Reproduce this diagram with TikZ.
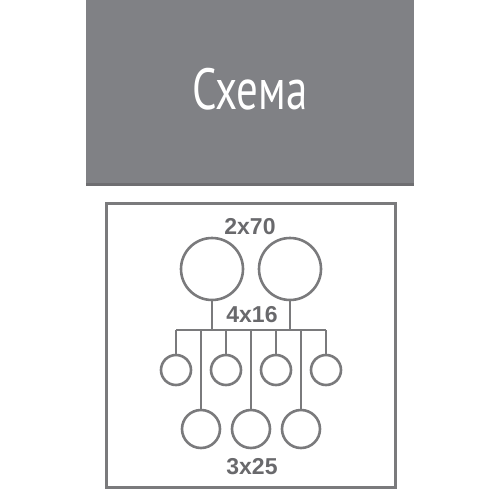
\documentclass[tikz,border=0pt]{standalone}
\usepackage{fontspec}
\newfontfamily\titlefont{PT Sans}
\newfontfamily\labelfont{Liberation Sans}
\definecolor{boxgray}{RGB}{128,129,133}
\definecolor{stripgray}{RGB}{110,110,113}
\definecolor{linegray}{RGB}{122,122,124}
\definecolor{textgray}{RGB}{105,105,108}
\tikzset{
  wire/.style={circle,draw=linegray,line width=2.6pt,inner sep=0pt},
  lbl/.style={text=textgray,font=\labelfont\bfseries\fontsize{23}{23}\selectfont},
}
\begin{document}
\begin{tikzpicture}[x=1pt,y=-1pt,line width=2.6pt]
\useasboundingbox (0,0) rectangle (500,500);
\fill[boxgray] (86,0) rectangle (414,183);
\fill[stripgray] (86,183) rectangle (414,186);
\node[text=white,font=\titlefont\fontsize{58}{58}\selectfont,xscale=0.74] (title) at (250,89) {Схема};
\draw[linegray,line width=3pt] (106,203) rectangle (395,487); % outer frame
\node[lbl] (top) at (250,227) {2x70};
\node[lbl] (mid) at (252,315) {4x16};
\node[lbl] (bot) at (252,467) {3x25};
\node[wire,minimum size=62pt] (big1) at (212,269) {};
\node[wire,minimum size=62pt] (big2) at (290,269) {};
\coordinate (barL) at (176,330);
\coordinate (barR) at (326,330);
\draw[linegray] (barL) -- (barR);
\draw[linegray] (big1.south) -- (big1.south |- barL);
\draw[linegray] (big2.south) -- (big2.south |- barL);
\foreach \i/\x in {1/176,2/226,3/276,4/326} % edit here for the 4x16 drops
{\node[wire,minimum size=30pt] (s\i) at (\x,370) {};
 \draw[linegray] (s\i.north) -- (s\i.north |- barL);}
\foreach \i/\x in {1/201,2/251,3/301} % edit here for the 3x25 drops
{\node[wire,minimum size=38pt] (m\i) at (\x,429) {};
 \draw[linegray] (m\i.north) -- (m\i.north |- barL);}
\end{tikzpicture}
\end{document}
